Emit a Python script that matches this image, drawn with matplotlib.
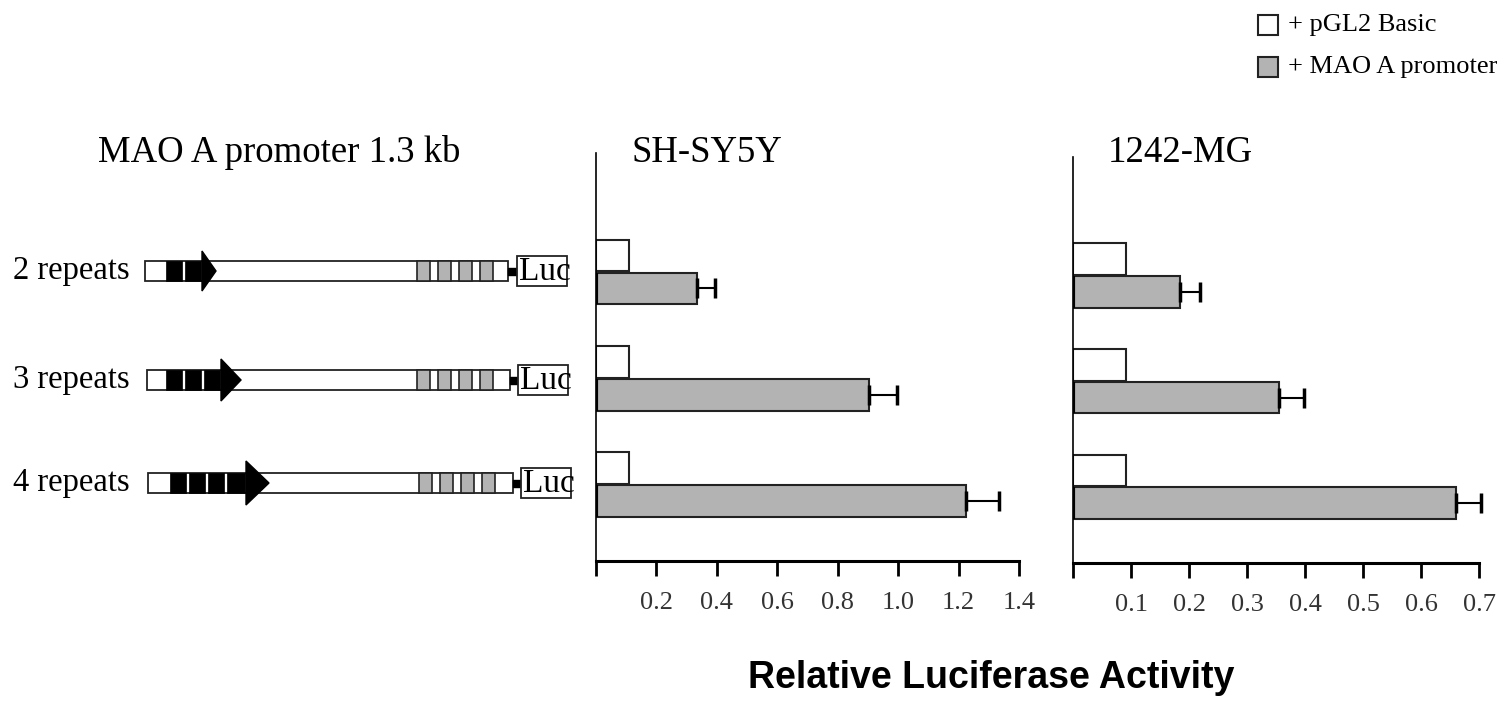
import numpy as np
import matplotlib
matplotlib.use("Agg")
import matplotlib.pyplot as plt
from matplotlib.patches import Rectangle, Polygon

plt.rcParams["font.family"] = ["Liberation Serif", "DejaVu Serif"]

# ---- data ----
constructs = ["2 repeats", "3 repeats", "4 repeats"]
repeat_counts = [2, 3, 4]
cell_lines = ["SH-SY5Y", "1242-MG"]
legend_labels = ["+ pGL2 Basic", "+ MAO A promoter"]

sh_basic = [0.109, 0.109, 0.109]
sh_mao = [0.334, 0.905, 1.225]
sh_err = [0.060, 0.092, 0.110]

mg_basic = [0.091, 0.091, 0.091]
mg_mao = [0.184, 0.355, 0.660]
mg_err = [0.035, 0.043, 0.043]

sh_ticks = [0.2, 0.4, 0.6, 0.8, 1.0, 1.2, 1.4]
sh_ticklabels = ["0.2", "0.4", "0.6", "0.8", "1.0", "1.2", "1.4"]
mg_ticks = [0.1, 0.2, 0.3, 0.4, 0.5, 0.6, 0.7]
mg_ticklabels = ["0.1", "0.2", "0.3", "0.4", "0.5", "0.6", "0.7"]

W, H = 1501, 704
GRAY = "#b3b3b3"
EDGE = "#222222"

fig = plt.figure(figsize=(W / 100, H / 100), dpi=100)

# background axes in pixel coordinates for the schematic and texts
bg = fig.add_axes([0, 0, 1, 1])
bg.set_xlim(0, W)
bg.set_ylim(H, 0)
bg.axis("off")


def px_axes(left, top, right, bottom):
    return fig.add_axes([left / W, (H - bottom) / H, (right - left) / W, (bottom - top) / H])


def bar_panel(ax, basic, mao, err, xmax, ticks, ticklabels):
    y = np.arange(len(constructs))
    h = 0.30
    ax.barh(y - 0.155, basic, height=h, color="white", edgecolor=EDGE, linewidth=1.5)
    ax.barh(y + 0.155, mao, height=h, color=GRAY, edgecolor=EDGE, linewidth=1.5)
    # thick dark stub where the gray bars meet the axis
    ax.vlines(np.zeros(len(mao)), y + 0.005, y + 0.305, colors="black", linewidth=3)
    eb = ax.errorbar(mao, y + 0.155, xerr=[np.zeros(len(err)), err], fmt="none",
                     ecolor="black", elinewidth=1.5, capsize=7, capthick=2.5)
    for art in eb.lines[1] + eb.lines[2]:
        art.set_clip_on(False)
    ax.set_xlim(0, xmax)
    ax.set_ylim(2.72, -1.12)
    ax.set_yticks([])
    ax.set_xticks([0] + ticks)
    ax.set_xticklabels([""] + ticklabels, fontsize=19, color="#333333")
    ax.tick_params(axis="x", direction="out", length=11, width=2, pad=11)
    ax.spines["top"].set_visible(False)
    ax.spines["right"].set_visible(False)
    ax.spines["left"].set_linewidth(1.2)
    ax.spines["bottom"].set_linewidth(2.2)
    ax.patch.set_alpha(0)


ax1 = px_axes(596, 153, 1019, 561)
bar_panel(ax1, sh_basic, sh_mao, sh_err, 1.4, sh_ticks, sh_ticklabels)
ax2 = px_axes(1073, 157, 1479, 563)
bar_panel(ax2, mg_basic, mg_mao, mg_err, 0.7, mg_ticks, mg_ticklabels)

# ---- promoter schematic ----
row_y = [271, 380, 483]          # centre line of each construct
row_left = [145, 147, 148]
row_right = [508, 510, 513]
block_start = [166, 166, 170]
head_len = [14, 20, 23]
head_half = [20, 21, 22]
gray_start = [417, 417, 419]
luc_left = [517, 518, 521]

for i, n in enumerate(repeat_counts):
    cy = row_y[i]
    # backbone
    bg.add_patch(Rectangle((row_left[i], cy - 10), row_right[i] - row_left[i], 20,
                           facecolor="white", edgecolor=EDGE, linewidth=1.3))
    # VNTR repeat blocks + arrow head
    x = block_start[i]
    for k in range(n):
        bw = 16 if k < 3 else 18
        bg.add_patch(Rectangle((x, cy - 10), bw, 20, facecolor="black", edgecolor="black", lw=0.5))
        x += bw + 3
    x -= 2
    bg.add_patch(Polygon([(x, cy - head_half[i]), (x + head_len[i], cy), (x, cy + head_half[i])],
                         closed=True, facecolor="black", edgecolor="black"))
    # gray elements
    for k in range(4):
        gx = gray_start[i] + k * 21
        bg.add_patch(Rectangle((gx, cy - 10), 13, 20, facecolor=GRAY, edgecolor=EDGE, linewidth=1.2))
    # linker and luciferase box
    bg.add_patch(Rectangle((row_right[i], cy - 3.5), luc_left[i] - row_right[i], 7,
                           facecolor="black", edgecolor="black"))
    bg.add_patch(Rectangle((luc_left[i], cy - 15), 50, 30, facecolor="white", edgecolor=EDGE, linewidth=1.3))
    bg.text(luc_left[i] + 2, cy + 1, "Luc", fontsize=24, ha="left", va="center")
    bg.text(13, cy, constructs[i], fontsize=23.5, ha="left", va="center")

# ---- titles ----
bg.text(98, 162, "MAO A promoter 1.3 kb", fontsize=26.5, ha="left", va="baseline")
bg.text(632, 162, cell_lines[0], fontsize=26.5, ha="left", va="baseline")
bg.text(1108, 162, cell_lines[1], fontsize=26.5, ha="left", va="baseline")
bg.text(748, 688, "Relative Luciferase Activity", fontsize=27, fontweight="bold",
        family="Liberation Sans", ha="left", va="baseline")

# ---- legend ----
for (fc, label, cy) in zip(["white", GRAY], legend_labels, [25, 67]):
    bg.add_patch(Rectangle((1258, cy - 10), 20, 20, facecolor=fc, edgecolor=EDGE, linewidth=1.5))
    bg.text(1288, cy, label, fontsize=19, ha="left", va="center")

fig.savefig("out.png", dpi=100)
